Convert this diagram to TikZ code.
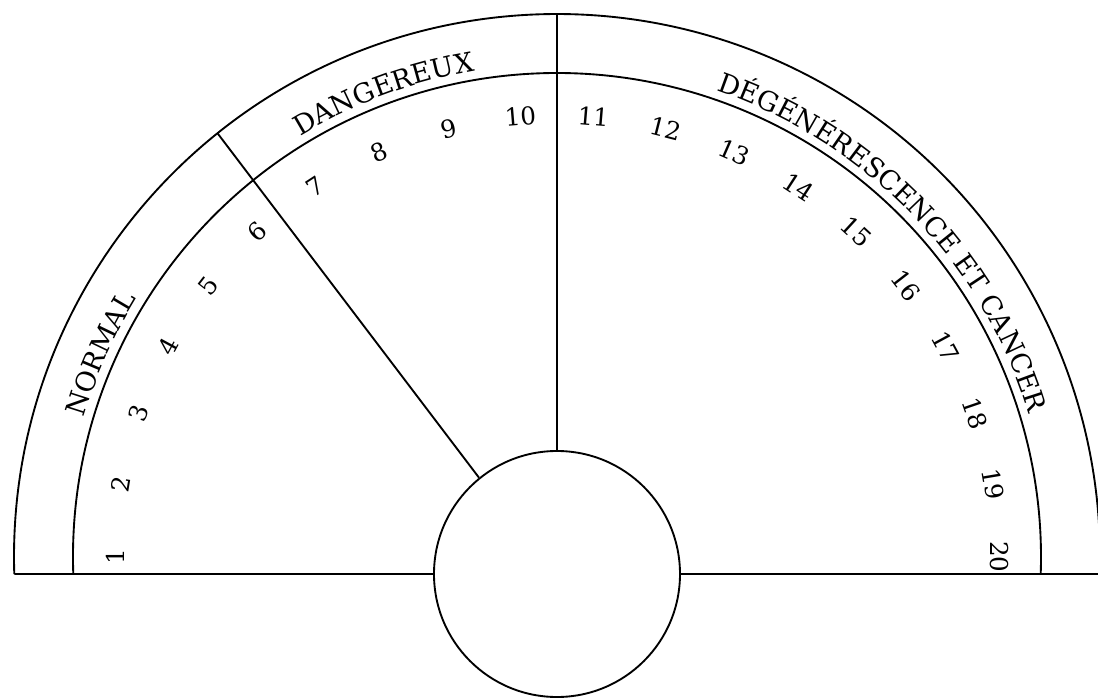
\documentclass[tikz,border=0pt]{standalone}
\usepackage{fontspec}
\setmainfont{DejaVu Serif}
\usetikzlibrary{decorations.text}

\begin{document}
\begin{tikzpicture}[x=0.03cm, y=0.03cm, line width=1.6pt,
    every node/.style={font=\fontsize{21}{25}\selectfont},
    bandtext/.style={decorate, decoration={text along path, text align=center,
      text={|\fontsize{23}{27}\selectfont|#1}}}]
  \useasboundingbox (-557,-140) rectangle (541,557);

  % scale arcs
  \coordinate (outL) at (181.8:543);
  \coordinate (outR) at (-1.8:543);
  \coordinate (inL) at (182:484);
  \draw (outL) arc[start angle=181.8, end angle=-1.8, radius=543];
  \draw (inL) arc[start angle=182, end angle=-2, radius=484];

  % central disc and base line
  \node[draw, circle, minimum size=7.38cm, inner sep=0pt] (hub) at (0,-17) {};
  \draw (outL) -- (hub.west);
  \draw (hub.east) -- (outR);

  % zone dividers
  \coordinate (top) at (90:543);
  \coordinate (cut) at (128.7:543);
  \draw (hub.north) -- (top);
  \draw (hub.129) -- (cut);

  % zone names
  \path[bandtext=NORMAL] (176:493) arc[start angle=176, end angle=136, radius=493];
  \path[bandtext=DANGEREUX] (128:493) arc[start angle=128, end angle=93, radius=493];
  \path[bandtext={DÉGÉNÉRESCENCE ET CANCER}] (86:493) arc[start angle=86, end angle=2, radius=493];

  % graduations 1..20
  \foreach \n in {1,...,20}{
    \pgfmathsetmacro\ang{180-(\n-1)*180/19}
    \node[rotate=\ang-90] (num\n) at (\ang:442) {\n};
  }
\end{tikzpicture}
\end{document}
